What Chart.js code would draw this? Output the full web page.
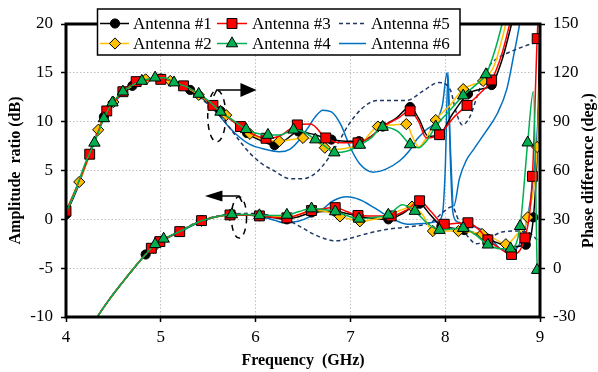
<!DOCTYPE html>
<html>
<head>
<meta charset="utf-8">
<script src="https://cdn.jsdelivr.net/npm/chart.js@4.4.0/dist/chart.umd.min.js"></script>
<style>
  html, body { margin: 0; padding: 0; background: #fff; }
  #wrap { width: 598px; height: 372px; }
</style>
</head>
<body>
<div id="wrap"><canvas id="c" width="598" height="372"></canvas></div>
<script>
// ---- series names ----
const LABELS = ['Antenna #1', 'Antenna #2', 'Antenna #3', 'Antenna #4', 'Antenna #5', 'Antenna #6'];

// ---- axis ranges ----
const FREQ_RANGE = [4, 9];       // GHz
const AMP_RANGE = [-10, 20];     // dB (left)
const PHASE_RANGE = [-30, 150];  // deg (right)

// ---- phase difference (deg), right axis ----
const A1_PH_F = [4.0,4.1,4.2,4.3,4.4,4.5,4.6,4.7,4.8,4.9,5.0,5.1,5.2,5.31,5.45,5.63,5.77,5.91,6.05,6.2,6.32,6.45,6.62,6.8,6.95,7.09,7.22,7.34,7.48,7.63,7.72,7.82,7.94,8.08,8.24,8.38,8.49,8.6,8.7,8.85,9.0];
const A1_PH   = [33,47,63,79,93,102,108,112,115,116.5,116.5,115,113,109.5,104,96.5,90,83,78.5,75.6,79,84,82,79,78,78,81,87,92,99,92,81,82,95,107,110,112.5,128,150,185,215];
const A1_PH_MARKS = [4.0,4.4,4.7,5.0,5.31,5.63,5.91,6.2,6.45,6.8,7.09,7.34,7.63,7.94,8.24,8.49];

const A2_PH_F = [4.0,4.14,4.24,4.34,4.42,4.5,4.6,4.7,4.84,4.95,5.1,5.2,5.3,5.4,5.55,5.69,5.8,5.94,6.1,6.25,6.38,6.5,6.62,6.73,6.85,6.98,7.1,7.29,7.45,7.59,7.66,7.72,7.8,7.9,8.05,8.19,8.3,8.4,8.52,8.64,8.75,8.9,9.0];
const A2_PH   = [34,53,68,85,95,102,108,112,116,116.5,115,113,110,106.5,100,94,89,82.5,79,78,79,80,79,74,73,74,76,87,88,88.5,80,74.5,80,91,100,110,113,115,125,150,175,205,220];
const A2_PH_MARKS = [4.14,4.34,4.5,4.84,5.1,5.4,5.69,5.94,6.25,6.5,6.73,7.29,7.59,7.9,8.19,8.4];

const A3_PH_F = [4.0,4.12,4.25,4.34,4.43,4.52,4.6,4.74,4.85,5.0,5.12,5.24,5.4,5.55,5.7,5.84,5.98,6.11,6.25,6.44,6.58,6.74,6.9,7.08,7.2,7.34,7.5,7.63,7.72,7.8,7.94,8.08,8.23,8.36,8.49,8.6,8.68,8.8,9.0];
const A3_PH   = [35,51,70,84,96.6,103,108.4,114.6,115.5,116,115,112,107,100,93,87,82,79.8,81,88,88.5,80,77,77,80,87,92,96.6,90,80,82,92,100,107,115.6,132,150,180,215];
const A3_PH_MARKS = [4.0,4.25,4.43,4.6,4.74,5.0,5.24,5.55,5.84,6.11,6.44,6.74,7.08,7.63,7.94,8.23,8.49];

const A4_PH_F = [4.0,4.1,4.2,4.3,4.4,4.49,4.6,4.7,4.8,4.94,5.04,5.14,5.27,5.4,5.52,5.63,5.76,5.9,6.0,6.13,6.27,6.4,6.5,6.63,6.73,6.83,6.97,7.1,7.22,7.34,7.5,7.63,7.72,7.8,7.9,8.05,8.19,8.31,8.43,8.52,8.6,8.7,8.85,9.0];
const A4_PH   = [34,48,64,77,92,101.7,108.4,112.5,115,117,117,114,111.5,107,102,96,91,85.3,83,81.8,82,85,84,79,75,71,72,75.7,80,86.7,84,76,74,78,87,97,106,112,119,133,150,175,205,220];
const A4_PH_MARKS = [4.3,4.4,4.49,4.6,4.8,4.94,5.14,5.4,5.63,5.9,6.13,6.4,6.63,6.83,7.1,7.34,7.63,7.9,8.19,8.43];

const A5_PH_F = [4.0,4.1,4.2,4.3,4.4,4.5,4.6,4.7,4.8,4.9,5.0,5.1,5.2,5.3,5.4,5.55,5.69,5.82,5.94,6.07,6.19,6.36,6.5,6.6,6.71,6.85,6.98,7.12,7.28,7.45,7.59,7.77,7.93,8.05,8.12,8.18,8.26,8.35,8.44,8.55,8.65,8.82,8.96,9.0];
const A5_PH   = [34,47,63,79,93,102,108,112,115,116,115.5,114,111.5,108.5,105,98,89,79,70.6,64,60,55,55,57,63,75,88,98,103,103,103,109,114,110,95,88,93,108,122,129,132,136,138.6,139];

const A6_PH_F = [4.0,4.1,4.2,4.3,4.4,4.5,4.6,4.7,4.8,4.9,5.0,5.1,5.2,5.3,5.4,5.5,5.6,5.7,5.8,5.94,6.1,6.25,6.36,6.45,6.55,6.63,6.71,6.8,6.9,7.0,7.1,7.24,7.38,7.52,7.62,7.7,7.8,7.9,7.97,8.02,8.05,8.09,8.15,8.22,8.3,8.43,8.55,8.65,8.72,8.79,8.85,9.0];
const A6_PH   = [34,46,62,78,92,101,107.5,111.5,114.5,115.5,115.5,114.5,112.5,109.5,106,101,95,88,82,76,73,71.5,73,78,86,93,97,96,88,74,64,59,61,66,72,79,85,90,100,120,80,38,55,66,73,84,95,110,130,152,180,215];

// ---- amplitude ratio (dB), left axis ----
const A1_AMP_F = [4.0,4.15,4.33,4.45,4.6,4.72,4.84,5.0,5.2,5.43,5.6,5.75,5.9,6.04,6.2,6.33,6.46,6.59,6.72,6.84,6.96,7.09,7.25,7.4,7.55,7.73,7.84,7.96,8.08,8.2,8.32,8.45,8.58,8.7,8.85,8.93,8.98,9.0];
const A1_AMP   = [-16.5,-13,-10,-8.3,-6.4,-4.95,-3.6,-2.3,-1.25,-0.15,0.3,0.45,0.45,0.35,0.15,0.0,0.3,0.7,0.8,0.8,0.6,0.3,0.1,0.0,0.6,1.6,0.5,-0.7,-0.9,-1.1,-1.4,-2.0,-2.5,-2.8,-2.6,0.2,10,22];
const A1_AMP_MARKS = [4.84,5.2,5.43,5.75,6.04,6.33,6.59,6.84,7.09,7.4,7.73,7.96,8.2,8.45,8.85,8.93];

const A2_AMP_F = [4.0,4.15,4.33,4.45,4.6,4.72,4.84,4.92,5.0,5.2,5.43,5.6,5.73,5.9,6.04,6.2,6.33,6.46,6.59,6.74,6.89,7.0,7.1,7.25,7.4,7.52,7.65,7.76,7.87,8.0,8.14,8.26,8.39,8.52,8.64,8.76,8.87,8.97,9.0];
const A2_AMP   = [-16.5,-13,-10,-8.3,-6.4,-4.95,-3.6,-2.9,-2.25,-1.25,-0.15,0.3,0.45,0.5,0.4,0.3,0.2,0.5,0.9,0.8,0.3,0.0,-0.2,0.0,0.3,0.9,1.3,0.5,-1.2,-1.2,-1.2,-1.3,-1.5,-2.0,-2.55,-1.5,0.2,7.4,15];
const A2_AMP_MARKS = [4.92,5.43,5.73,6.04,6.33,6.59,6.89,7.1,7.4,7.65,7.87,8.14,8.39,8.64,8.87,8.97];

const A3_AMP_F = [4.0,4.15,4.33,4.45,4.6,4.72,4.84,4.9,4.99,5.1,5.2,5.43,5.6,5.73,5.9,6.04,6.2,6.33,6.46,6.59,6.72,6.84,6.96,7.08,7.25,7.43,7.6,7.73,7.85,7.99,8.12,8.24,8.35,8.45,8.58,8.7,8.84,8.92,8.97,9.0];
const A3_AMP   = [-16.5,-13,-10,-8.3,-6.4,-4.95,-3.6,-2.96,-2.28,-1.7,-1.26,-0.13,0.3,0.45,0.45,0.35,0.2,0.15,0.5,0.9,1.1,1.2,0.8,0.4,0.35,0.35,1.0,1.9,0.8,-0.5,-0.4,-0.35,-1.0,-2.1,-3.0,-3.6,-1.9,4.4,18.5,25];
const A3_AMP_MARKS = [4.9,4.99,5.2,5.43,5.73,6.04,6.33,6.59,6.84,7.08,7.43,7.73,7.99,8.24,8.45,8.7,8.84,8.92,8.97];

const A4_AMP_F = [4.0,4.15,4.33,4.45,4.6,4.72,4.84,4.94,5.03,5.2,5.43,5.6,5.75,5.9,6.04,6.2,6.33,6.46,6.59,6.72,6.84,6.96,7.09,7.25,7.4,7.55,7.68,7.8,7.94,8.06,8.19,8.32,8.45,8.58,8.69,8.79,8.87,8.93,8.97];
const A4_AMP   = [-16.5,-13,-10,-8.3,-6.4,-4.95,-3.6,-2.55,-2.0,-1.25,-0.15,0.3,0.5,0.5,0.4,0.4,0.45,0.8,1.1,1.0,0.8,0.4,0.05,0.2,0.45,1.5,0.85,-0.3,-1.1,-1.0,-0.9,-1.6,-2.6,-3.0,-3.0,-0.7,7.85,13.1,-5.2];
const A4_AMP_MARKS = [4.94,5.03,5.75,6.04,6.33,6.59,6.84,7.09,7.4,7.68,7.94,8.19,8.45,8.69,8.79,8.87,8.97];

const A5_AMP_F = [4.0,4.15,4.33,4.45,4.6,4.72,4.84,5.0,5.2,5.43,5.6,5.75,5.9,6.05,6.2,6.33,6.48,6.63,6.85,7.05,7.2,7.4,7.63,7.85,8.0,8.07,8.15,8.25,8.33,8.47,8.6,8.75,8.87,9.0];
const A5_AMP   = [-16.5,-13,-10,-8.3,-6.4,-4.95,-3.6,-2.25,-1.2,-0.1,0.35,0.55,0.6,0.55,0.3,-0.05,-0.8,-1.6,-2.2,-1.8,-1.4,-1.0,-0.75,-0.3,0.9,1.3,-0.3,-1.9,-2.5,-1.9,-1.3,-1.2,-1.3,-2.4];

const A6_AMP_F = [4.0,4.15,4.33,4.45,4.6,4.72,4.84,5.0,5.2,5.43,5.6,5.75,5.9,6.05,6.2,6.3,6.45,6.58,6.7,6.82,6.96,7.1,7.25,7.4,7.6,7.8,7.92,7.97,8.0,8.03,8.055,8.08,8.12,8.2,8.35,8.45,8.58,8.7,8.8,8.9,8.96,9.0];
const A6_AMP   = [-16.5,-13,-10,-8.3,-6.4,-4.95,-3.6,-2.3,-1.3,-0.2,0.3,0.5,0.45,0.3,-0.1,-0.35,-0.2,0.3,1.0,1.9,2.3,2.0,1.2,0.3,-0.5,-0.4,-0.2,0.5,5,15,6,0.8,-0.2,-0.5,-0.9,-1.5,-3.0,-3.2,-2.2,2.0,7.4,14];

// ---- look ----
const SERIF = "'Liberation Serif', 'Times New Roman', serif";
const STYLES = [
  { color: '#000000', fill: '#000000', point: 'circle',   radius: 4.6, dash: [], order: 4 },
  { color: '#FFC000', fill: '#FFC000', point: 'rectRot',  radius: 5.6, dash: [], order: 3 },
  { color: '#FF0000', fill: '#FF0000', point: 'rect',     radius: 7.0, dash: [], order: 2 },
  { color: '#00B050', fill: '#00B050', point: 'triangle', radius: 6.6, dash: [], order: 1 },
  { color: '#203864', fill: null,      point: false,      radius: 0,   dash: [4, 3], order: 5 },
  { color: '#0070C0', fill: null,      point: false,      radius: 0,   dash: [], order: 6 }
];

const SERIES = [
  { amp: [A1_AMP_F, A1_AMP, A1_AMP_MARKS], ph: [A1_PH_F, A1_PH, A1_PH_MARKS] },
  { amp: [A2_AMP_F, A2_AMP, A2_AMP_MARKS], ph: [A2_PH_F, A2_PH, A2_PH_MARKS] },
  { amp: [A3_AMP_F, A3_AMP, A3_AMP_MARKS], ph: [A3_PH_F, A3_PH, A3_PH_MARKS] },
  { amp: [A4_AMP_F, A4_AMP, A4_AMP_MARKS], ph: [A4_PH_F, A4_PH, A4_PH_MARKS] },
  { amp: [A5_AMP_F, A5_AMP, []],           ph: [A5_PH_F, A5_PH, []] },
  { amp: [A6_AMP_F, A6_AMP, []],           ph: [A6_PH_F, A6_PH, []] }
];

function toPoints(F, V) { return F.map((f, i) => ({ x: f, y: V[i] })); }
function isMarked(list, ctx) {
  const r = ctx.raw;
  if (!r) return false;
  return list.some(f => Math.abs(f - r.x) < 1e-9);
}

function makeDataset(idx, trio, axis) {
  const s = STYLES[idx];
  const [F, V, marks] = trio;
  return {
    label: LABELS[idx],
    data: toPoints(F, V),
    yAxisID: axis,
    borderColor: s.color,
    borderWidth: 1.5,
    borderDash: s.dash,
    cubicInterpolationMode: 'monotone',
    fill: false,
    order: s.order,
    pointStyle: s.point || 'circle',
    pointBackgroundColor: s.fill || s.color,
    pointBorderColor: '#000000',
    pointBorderWidth: 1,
    pointRadius: ctx => (s.point && isMarked(marks, ctx)) ? s.radius : 0,
    pointHoverRadius: ctx => (s.point && isMarked(marks, ctx)) ? s.radius : 0
  };
}

const datasets = [];
SERIES.forEach((ser, i) => {
  datasets.push(makeDataset(i, ser.ph, 'y2'));
  datasets.push(makeDataset(i, ser.amp, 'y'));
});

// Frame, annotations, axis titles and the boxed two-row legend
const decor = {
  id: 'decor',
  beforeDatasetsDraw(chart) {
    const { ctx, scales: { x, y } } = chart;
    const ca = chart.chartArea;
    ctx.save();
    ctx.beginPath();
    ctx.rect(ca.left, ca.top, ca.right - ca.left, ca.bottom - ca.top);
    ctx.clip();
    ctx.strokeStyle = '#000';
    ctx.fillStyle = '#000';
    ctx.lineWidth = 1.5;

    // dashed ellipse marking the phase group, arrow to the right axis
    const e1 = { cx: x.getPixelForValue(5.59), cy: y.getPixelForValue(10.58),
                 rx: x.getPixelForValue(5.685) - x.getPixelForValue(5.59),
                 ry: y.getPixelForValue(10.58) - y.getPixelForValue(13.24) };
    ctx.setLineDash([6, 5]);
    ctx.beginPath();
    ctx.ellipse(e1.cx, e1.cy, e1.rx, e1.ry, 0, 0, Math.PI * 2);
    ctx.stroke();
    ctx.setLineDash([]);
    const ay1 = y.getPixelForValue(13.25);
    ctx.beginPath();
    ctx.moveTo(e1.cx - 3, e1.cy - e1.ry + 6);
    ctx.lineTo(e1.cx, ay1);
    ctx.lineTo(x.getPixelForValue(5.85), ay1);
    ctx.stroke();
    ctx.beginPath();
    ctx.moveTo(x.getPixelForValue(5.84), ay1 - 7);
    ctx.lineTo(x.getPixelForValue(6.01), ay1);
    ctx.lineTo(x.getPixelForValue(5.84), ay1 + 7);
    ctx.closePath();
    ctx.fill();

    // dashed ellipse marking the amplitude group, arrow to the left axis
    const e2 = { cx: x.getPixelForValue(5.825), cy: y.getPixelForValue(0.19),
                 rx: x.getPixelForValue(5.905) - x.getPixelForValue(5.825),
                 ry: y.getPixelForValue(0.19) - y.getPixelForValue(2.3) };
    ctx.setLineDash([6, 5]);
    ctx.beginPath();
    ctx.ellipse(e2.cx, e2.cy, e2.rx, e2.ry, 0, 0, Math.PI * 2);
    ctx.stroke();
    ctx.setLineDash([]);
    const ay2 = y.getPixelForValue(2.38);
    ctx.beginPath();
    ctx.moveTo(e2.cx + 3, e2.cy - e2.ry + 5);
    ctx.lineTo(e2.cx, ay2);
    ctx.lineTo(x.getPixelForValue(5.64), ay2);
    ctx.stroke();
    ctx.beginPath();
    ctx.moveTo(x.getPixelForValue(5.65), ay2 - 5.5);
    ctx.lineTo(x.getPixelForValue(5.465), ay2);
    ctx.lineTo(x.getPixelForValue(5.65), ay2 + 5.5);
    ctx.closePath();
    ctx.fill();
    ctx.restore();
  },
  afterDatasetsDraw(chart) {
    const { ctx } = chart;
    const ca = chart.chartArea;
    ctx.save();
    ctx.strokeStyle = '#000';
    ctx.lineWidth = 3;
    ctx.setLineDash([]);
    ctx.strokeRect(ca.left, ca.top, ca.right - ca.left, ca.bottom - ca.top);
    ctx.restore();
  },
  afterDraw(chart) {
    const { ctx } = chart;
    const ca = chart.chartArea;
    const midY = (ca.top + ca.bottom) / 2;
    ctx.save();
    ctx.fillStyle = '#000';
    ctx.font = 'bold 16px ' + SERIF;
    ctx.textAlign = 'center';
    ctx.textBaseline = 'middle';
    ctx.fillText('Frequency  (GHz)', (ca.left + ca.right) / 2, 361);
    ctx.save();
    ctx.translate(16, midY);
    ctx.rotate(-Math.PI / 2);
    ctx.fillText('Amplitude  ratio (dB)', 0, 0);
    ctx.restore();
    ctx.save();
    ctx.translate(589, midY);
    ctx.rotate(-Math.PI / 2);
    ctx.fillText('Phase difference (deg.)', 0, 0);
    ctx.restore();

    // legend box
    const box = { l: 97.5, t: 9, r: 460, b: 55 };
    ctx.fillStyle = '#fff';
    ctx.fillRect(box.l, box.t, box.r - box.l, box.b - box.t);
    ctx.strokeStyle = '#000';
    ctx.lineWidth = 1.5;
    ctx.strokeRect(box.l, box.t, box.r - box.l, box.b - box.t);
    const cols = [
      { x0: 100, x1: 129, mx: 115, tx: 133 },
      { x0: 217, x1: 247, mx: 232, tx: 252 },
      { x0: 339, x1: 366, mx: 352, tx: 371 }
    ];
    const rows = [23.5, 43.5];
    ctx.font = '17px ' + SERIF;
    ctx.textAlign = 'left';
    ctx.textBaseline = 'middle';
    LABELS.forEach((lab, i) => {
      const s = STYLES[i];
      const c = cols[Math.floor(i / 2)];
      const yy = rows[i % 2];
      ctx.strokeStyle = s.color;
      ctx.lineWidth = 1.5;
      ctx.setLineDash(s.dash);
      ctx.beginPath();
      ctx.moveTo(c.x0, yy);
      ctx.lineTo(c.x1, yy);
      ctx.stroke();
      ctx.setLineDash([]);
      if (s.point) {
        ctx.fillStyle = s.fill;
        ctx.strokeStyle = '#000';
        ctx.lineWidth = 1;
        Chart.helpers.drawPoint(ctx, { pointStyle: s.point, radius: s.radius, rotation: 0, borderWidth: 1 }, c.mx, yy);
      }
      ctx.fillStyle = '#000';
      ctx.fillText(lab, c.tx, yy + 1);
    });
    ctx.restore();
  }
};

const tickFont = { family: SERIF, size: 17 };

new Chart(document.getElementById('c'), {
  type: 'line',
  data: { datasets },
  plugins: [decor],
  options: {
    responsive: false,
    animation: false,
    devicePixelRatio: 1,
    layout: { padding: { top: 24, left: 0, right: 0, bottom: 0 } },
    plugins: { legend: { display: false }, tooltip: { enabled: false } },
    scales: {
      x: {
        type: 'linear',
        min: FREQ_RANGE[0], max: FREQ_RANGE[1],
        afterFit: s => { s.height = 55; },
        ticks: { stepSize: 1, color: '#000', font: tickFont, padding: 5, maxRotation: 0 },
        grid: { color: '#BFBFBF', lineWidth: 1, drawTicks: true, tickLength: 5, tickColor: '#000', tickWidth: 1.5, tickBorderDash: [] },
        border: { display: false, dash: [1.5, 2] }
      },
      y: {
        type: 'linear', position: 'left',
        min: AMP_RANGE[0], max: AMP_RANGE[1],
        afterFit: s => { s.width = 66; },
        ticks: { stepSize: 5, color: '#000', font: tickFont, padding: 8 },
        grid: { color: '#BFBFBF', lineWidth: 1, drawTicks: true, tickLength: 5, tickColor: '#000', tickWidth: 1.5, tickBorderDash: [] },
        border: { display: false, dash: [1.5, 2] }
      },
      y2: {
        type: 'linear', position: 'right',
        min: PHASE_RANGE[0], max: PHASE_RANGE[1],
        afterFit: s => { s.width = 58; },
        ticks: { stepSize: 30, color: '#000', font: tickFont, padding: 8 },
        grid: { drawOnChartArea: false, drawTicks: true, tickLength: 5, tickColor: '#000', tickWidth: 1.5, tickBorderDash: [] },
        border: { display: false }
      }
    }
  }
});
</script>
</body>
</html>
